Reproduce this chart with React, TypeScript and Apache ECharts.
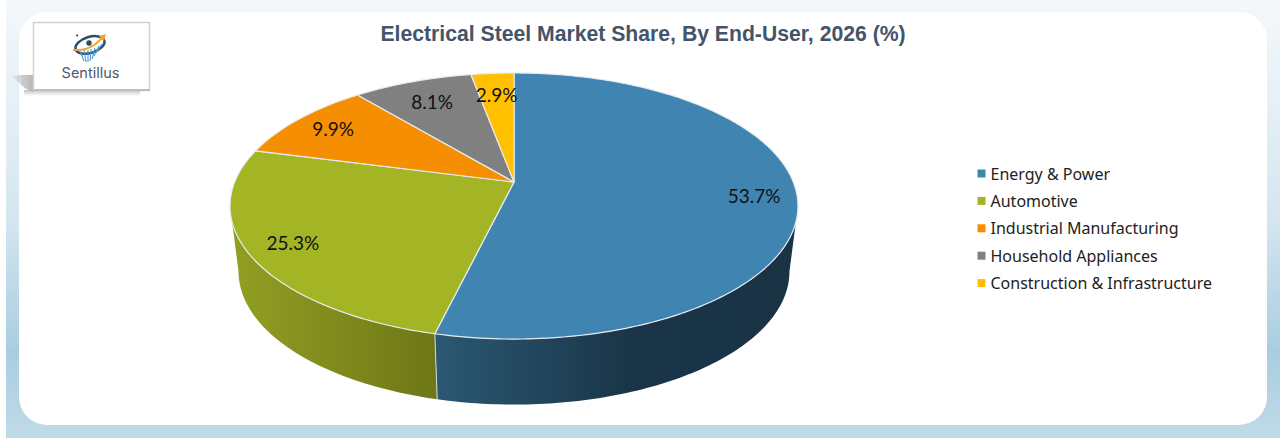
import { useEffect, useRef } from "react";
import * as echarts from "echarts";

const categories = [
  "Energy & Power",
  "Automotive",
  "Industrial Manufacturing",
  "Household Appliances",
  "Construction & Infrastructure",
];
const shares = [53.7, 25.3, 9.9, 8.1, 2.9];
const colors = ["#4085b2", "#a3b525", "#f58e00", "#808080", "#ffc000"];
const labelRadius = [0.85, 0.85, 0.83, 0.78, 0.78];

// pie geometry, a circle seen in perspective (Excel style 3D pie)
const CX = 514;
const APEX_Y = 182;
const RX = 279.3;
const RY = 128.7;
const PERSP = 0.1805;
const DEPTH = 65.5;
const TAPER = 0.97;
// where the rim is visible: the widest points of the projected circle
const RIM_START = (Math.acos(-PERSP) * 180) / Math.PI;
const RIM_END = 360 - RIM_START;

const project = (deg: number, r = 1): [number, number] => {
  const t = (deg * Math.PI) / 180;
  const w = 1 + PERSP * r * Math.cos(t);
  return [CX + (RX * r * Math.sin(t)) / w, APEX_Y - (RY * r * Math.cos(t)) / w];
};
const lower = ([x, y]: [number, number]): [number, number] => [CX + (x - CX) * TAPER, y + DEPTH];

const arcPoints = (from: number, to: number) => {
  const pts: [number, number][] = [];
  const steps = Math.max(2, Math.ceil(to - from));
  for (let i = 0; i <= steps; i++) pts.push(project(from + ((to - from) * i) / steps));
  return pts;
};

const total = shares.reduce((a, b) => a + b, 0);
const startAngle = (i: number) => (shares.slice(0, i).reduce((a, b) => a + b, 0) / total) * 360;

const sideFill = (i: number) =>
  i === 0
    ? new echarts.graphic.LinearGradient(436, 0, 790, 0, [
        { offset: 0, color: "#2b5873" },
        { offset: 0.55, color: "#1a3548" },
        { offset: 1, color: "#193345" },
      ], true)
    : new echarts.graphic.LinearGradient(232, 0, 437, 0, [
        { offset: 0, color: "#929f22" },
        { offset: 1, color: "#6e7717" },
      ], true);

const renderSlice = (i: number) => (_params: any, api: any) => {
  const from = startAngle(i);
  const to = from + (api.value(0) / total) * 360;
  const children: any[] = [];

  // rim below the top face, only the part that faces the viewer
  const a = Math.max(from, RIM_START);
  const b = Math.min(to, RIM_END);
  if (b > a) {
    const top = arcPoints(a, b);
    children.push({
      type: "polygon",
      shape: { points: [...top, ...top.map(lower).reverse()] },
      style: { fill: sideFill(i) },
      z2: 1,
    });
    if (a === from) {
      children.push({
        type: "line",
        shape: { x1: top[0][0], y1: top[0][1], x2: lower(top[0])[0], y2: lower(top[0])[1] },
        style: { stroke: "#d4d9dc", lineWidth: 1 },
        z2: 2,
      });
    }
  }

  children.push({
    type: "polygon",
    shape: { points: [[CX, APEX_Y], ...arcPoints(from, to)] },
    style: { fill: colors[i], stroke: "#e6ebee", lineWidth: 1.2, lineJoin: "round" },
    z2: 3,
  });

  const [lx, ly] = project((from + to) / 2, labelRadius[i]);
  children.push({
    type: "text",
    style: {
      text: shares[i].toFixed(1) + "%",
      x: lx,
      y: ly,
      align: "center",
      verticalAlign: "middle",
      fill: "#111111",
      fontFamily: "Lato",
      fontSize: 19,
    },
    z2: 10,
  });

  return { type: "group", children };
};

const fan = [
  [84, 61, 80, 51],
  [86, 62, 84, 50],
  [88, 62, 88, 50],
  [90, 61, 91, 49],
  [92, 59, 95, 48],
  [94, 56, 99, 46],
  [96, 53, 102, 44],
];

const logo: any[] = [
  {
    type: "polygon",
    shape: { points: [[11, 76], [20, 75], [34, 75], [34, 92], [26, 89]] },
    style: {
      fill: new echarts.graphic.LinearGradient(0, 0, 1, 0, [
        { offset: 0, color: "rgba(170,170,170,0)" },
        { offset: 0.5, color: "rgba(170,170,170,0.6)" },
        { offset: 1, color: "rgba(160,160,160,0.8)" },
      ]),
    },
    z: 1,
  },
  {
    type: "rect",
    shape: { x: 24, y: 90, width: 116, height: 6 },
    style: {
      fill: new echarts.graphic.LinearGradient(0, 0, 0, 1, [
        { offset: 0, color: "rgba(170,170,170,0.7)" },
        { offset: 1, color: "rgba(170,170,170,0)" },
      ]),
    },
    z: 1,
  },
  { type: "rect", shape: { x: 33.5, y: 22.5, width: 116, height: 68 }, style: { fill: "#ffffff", stroke: "#d2d2d2", lineWidth: 1.5 }, z: 2 },
  { type: "line", shape: { x1: 34, y1: 90, x2: 150, y2: 90 }, style: { stroke: "#bdbdbd", lineWidth: 2 }, z: 3 },
  { type: "ellipse", shape: { cx: 90, cy: 45, rx: 15, ry: 8 }, rotation: 0.3, originX: 90, originY: 45, style: { fill: "none", stroke: "#2f4f66", lineWidth: 2.5 }, z: 3 },
  { type: "circle", shape: { cx: 89, cy: 43, r: 2.8 }, style: { fill: "#2f4f66" }, z: 3 },
  { type: "circle", shape: { cx: 77, cy: 35.5, r: 1 }, style: { fill: "#2f4f66" }, z: 3 },
  { type: "bezierCurve", shape: { x1: 73, y1: 50, x2: 103, y2: 36, cpx1: 88, cpy1: 51, cpx2: 97, cpy2: 45 }, style: { fill: "none", stroke: "#f2a529", lineWidth: 2 }, z: 4 },
  { type: "polygon", shape: { points: [[99, 36], [106, 34], [104, 41]] }, style: { fill: "#f2a529" }, z: 4 },
  ...fan.map(([x1, y1, x2, y2]) => ({
    type: "line",
    shape: { x1, y1, x2, y2 },
    style: { stroke: "#4a9ccb", lineWidth: 1.1 },
    z: 4,
  })),
  {
    type: "text",
    style: { text: "Sentillus", x: 90.5, y: 72, align: "center", verticalAlign: "middle", fontFamily: "Inter", fontSize: 14.5, fill: "#4a5a70" },
    z: 4,
  },
];

export default function App() {
  const ref = useRef<HTMLDivElement | null>(null);

  useEffect(() => {
    document.body.style.margin = "0";
    if (!ref.current) return;
    const chart = echarts.init(ref.current, null, { renderer: "svg" });
    chart.setOption({
      animation: false,
      title: {
        text: "Electrical Steel Market Share, By End-User, 2026 (%)",
        left: 638,
        top: 18,
        textAlign: "center",
        textStyle: { fontFamily: "Liberation Sans", fontWeight: "bold", fontSize: 21.2, color: "#44546a" },
      },
      legend: {
        orient: "vertical",
        left: 977.5,
        top: 164.5,
        padding: 0,
        icon: "rect",
        itemWidth: 8,
        itemHeight: 8,
        itemGap: 9.4,
        data: categories,
        selectedMode: false,
        textStyle: { fontFamily: "Noto Sans", fontSize: 16, lineHeight: 18, color: "#222222" },
      },
      graphic: [
        {
          type: "rect",
          shape: { x: 0, y: 0, width: 1280, height: 438 },
          style: {
            fill: new echarts.graphic.LinearGradient(0, 0, 0, 1, [
              { offset: 0, color: "#f4f8fb" },
              { offset: 0.5, color: "#d5e6f0" },
              { offset: 0.8, color: "#a9cde0" },
              { offset: 1, color: "#c0dae8" },
            ]),
          },
          z: -10,
        },
        { type: "rect", shape: { x: 0, y: 0, width: 6, height: 438 }, style: { fill: "#ffffff" }, z: -10 },
        {
          type: "rect",
          shape: { x: 19, y: 12, width: 1248, height: 413, r: 28 },
          style: { fill: "#ffffff" },
          z: -9,
        },
        ...logo,
      ],
      series: categories.map((name, i) => ({
        type: "custom",
        name,
        coordinateSystem: "none",
        itemStyle: { color: colors[i] },
        data: [[shares[i]]],
        renderItem: renderSlice(i),
        silent: true,
        z: 2,
      })),
    });
    return () => chart.dispose();
  }, []);

  return <div ref={ref} style={{ width: 1280, height: 438 }} />;
}
